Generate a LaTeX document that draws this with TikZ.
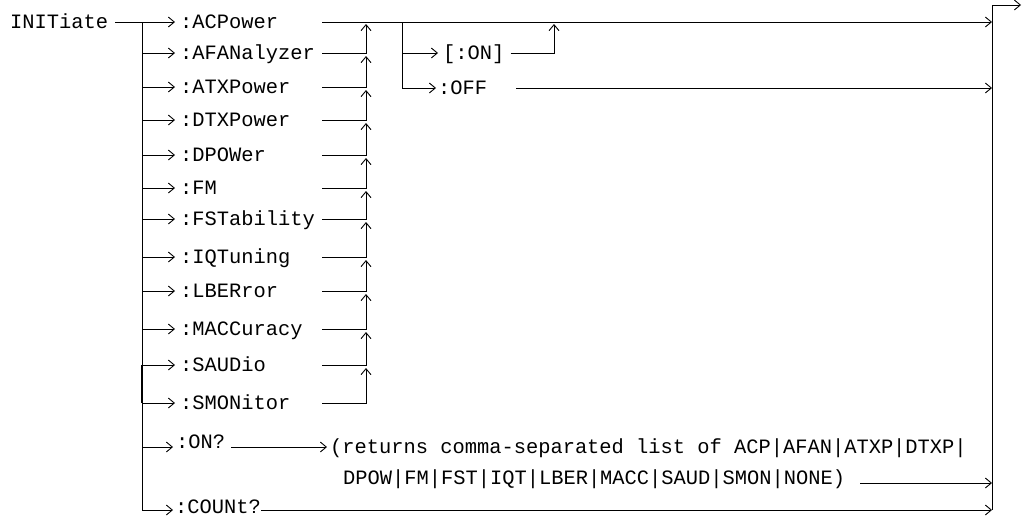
\documentclass[tikz,border=0pt]{standalone}
\usepackage{fontspec}
\newfontfamily\cour{Liberation Mono}
\usetikzlibrary{arrows.meta,calc}

\begin{document}
\begin{tikzpicture}[
x=1pt,y=-1pt,
cmd/.style={font=\cour\fontsize{20.4}{24}\selectfont,anchor=west,inner xsep=0pt,inner ysep=0pt,text height=12pt,text depth=0pt},
link/.style={line width=0.9pt},
arrow/.style={link,-{Straight Barb[length=6pt,width=10pt]}},
feed/.style={arrow,shorten >=5pt}
]
\useasboundingbox (0,0) rectangle (1023,517);
% keywords
\node[cmd] (init) at (10,22) {INITiate};
\node[cmd] (acp) at (180,22) {:ACPower};
\node[cmd] (afan) at (180,53) {:AFANalyzer};
\node[cmd] (atxp) at (180,87) {:ATXPower};
\node[cmd] (dtxp) at (180,120) {:DTXPower};
\node[cmd] (dpow) at (180,155) {:DPOWer};
\node[cmd] (fm) at (180,188) {:FM};
\node[cmd] (fst) at (180,219) {:FSTability};
\node[cmd] (iqt) at (180,257) {:IQTuning};
\node[cmd] (lber) at (180,291) {:LBERror};
\node[cmd] (macc) at (180,329) {:MACCuracy};
\node[cmd] (saud) at (180,365) {:SAUDio};
\node[cmd] (smon) at (180,403) {:SMONitor};
\node[cmd] (onq) at (176,442) {:ON?};
\node[cmd] (count) at (175,507) {:COUNt?};
\node[cmd] (on) at (443,53) {[:ON]};
\node[cmd] (off) at (438,88) {:OFF};
\node[cmd] (resp1) at (330,447) {(returns comma-separated list of ACP|AFAN|ATXP|DTXP|};
\node[cmd] (resp2) at (343,478) {DPOW|FM|FST|IQT|LBER|MACC|SAUD|SMON|NONE)};
% junction points
\coordinate (bus) at (142,22);
\coordinate (lineX) at (322,22);
\coordinate (merge) at (366,22);
\coordinate (sw) at (402,22);
\coordinate (up) at (554,22);
\coordinate (outTop) at (992,5);
\coordinate (outEnd) at (1021,5);
\coordinate (onqIn) at ([yshift=-5pt]onq.west);
\coordinate (onqOut) at ([xshift=6pt,yshift=-5pt]onq.east);
\coordinate (countIn) at ([yshift=-3pt]count.west);
\coordinate (countOut) at ([yshift=-3pt]count.east);
\coordinate (respOut) at ([xshift=15pt,yshift=-5pt]resp2.east);
\coordinate (onOut) at ([xshift=6pt]on.east);
\coordinate (offOut) at ([xshift=29pt]off.east);
% left bus
\draw[feed] ([xshift=7pt]init.east) -- (acp.west);
\draw[link] (bus) -- (bus |- countIn);
\draw[link,line width=1.8pt] (bus |- saud.west) -- (bus |- smon.west);
\draw[feed] (bus |- afan.west) -- (afan.west);
\draw[feed] (bus |- atxp.west) -- (atxp.west);
\draw[feed] (bus |- dtxp.west) -- (dtxp.west);
\draw[feed] (bus |- dpow.west) -- (dpow.west);
\draw[feed] (bus |- fm.west) -- (fm.west);
\draw[feed] (bus |- fst.west) -- (fst.west);
\draw[feed] (bus |- iqt.west) -- (iqt.west);
\draw[feed] (bus |- lber.west) -- (lber.west);
\draw[feed] (bus |- macc.west) -- (macc.west);
\draw[feed] (bus |- saud.west) -- (saud.west);
\draw[feed] (bus |- smon.west) -- (smon.west);
\draw[arrow,shorten >=3pt] (bus |- onqIn) -- (onqIn);
\draw[arrow,shorten >=2pt] (bus |- countIn) -- (countIn);
% merge column
\draw[arrow] (lineX |- afan.west) -| ($(merge |- acp.west)+(0,2)$);
\draw[arrow] (lineX |- atxp.west) -| ($(merge |- afan.west)+(0,3)$);
\draw[arrow] (lineX |- dtxp.west) -| ($(merge |- atxp.west)+(0,3)$);
\draw[arrow] (lineX |- dpow.west) -| ($(merge |- dtxp.west)+(0,3)$);
\draw[arrow] (lineX |- fm.west) -| ($(merge |- dpow.west)+(0,3)$);
\draw[arrow] (lineX |- fst.west) -| ($(merge |- fm.west)+(0,3)$);
\draw[arrow] (lineX |- iqt.west) -| ($(merge |- fst.west)+(0,3)$);
\draw[arrow] (lineX |- lber.west) -| ($(merge |- iqt.west)+(0,3)$);
\draw[arrow] (lineX |- macc.west) -| ($(merge |- lber.west)+(0,3)$);
\draw[arrow] (lineX |- saud.west) -| ($(merge |- macc.west)+(0,3)$);
\draw[arrow] (lineX |- smon.west) -| ($(merge |- saud.west)+(0,3)$);
% on / off
\draw[link] (sw) -- (sw |- off.west);
\draw[feed] (sw |- on.west) -- (on.west);
\draw[arrow,shorten >=0pt] (sw |- off.west) -- ([xshift=-2pt]off.west);
\draw[arrow] (onOut) -| ($(up |- acp.west)+(0,2)$);
% right side
\draw[arrow] (lineX |- acp.west) -- (outTop |- acp.west);
\draw[arrow] (offOut) -- (offOut -| outTop);
\draw[arrow,shorten >=3pt] (onqOut) -- (onqOut -| resp1.west);
\draw[arrow] (respOut) -- (respOut -| outTop);
\draw[arrow] (countOut) -- (countOut -| outTop);
\draw[link] (outTop) -- (outTop |- countOut);
\draw[arrow] (outTop) -- (outEnd);
\end{tikzpicture}
\end{document}
